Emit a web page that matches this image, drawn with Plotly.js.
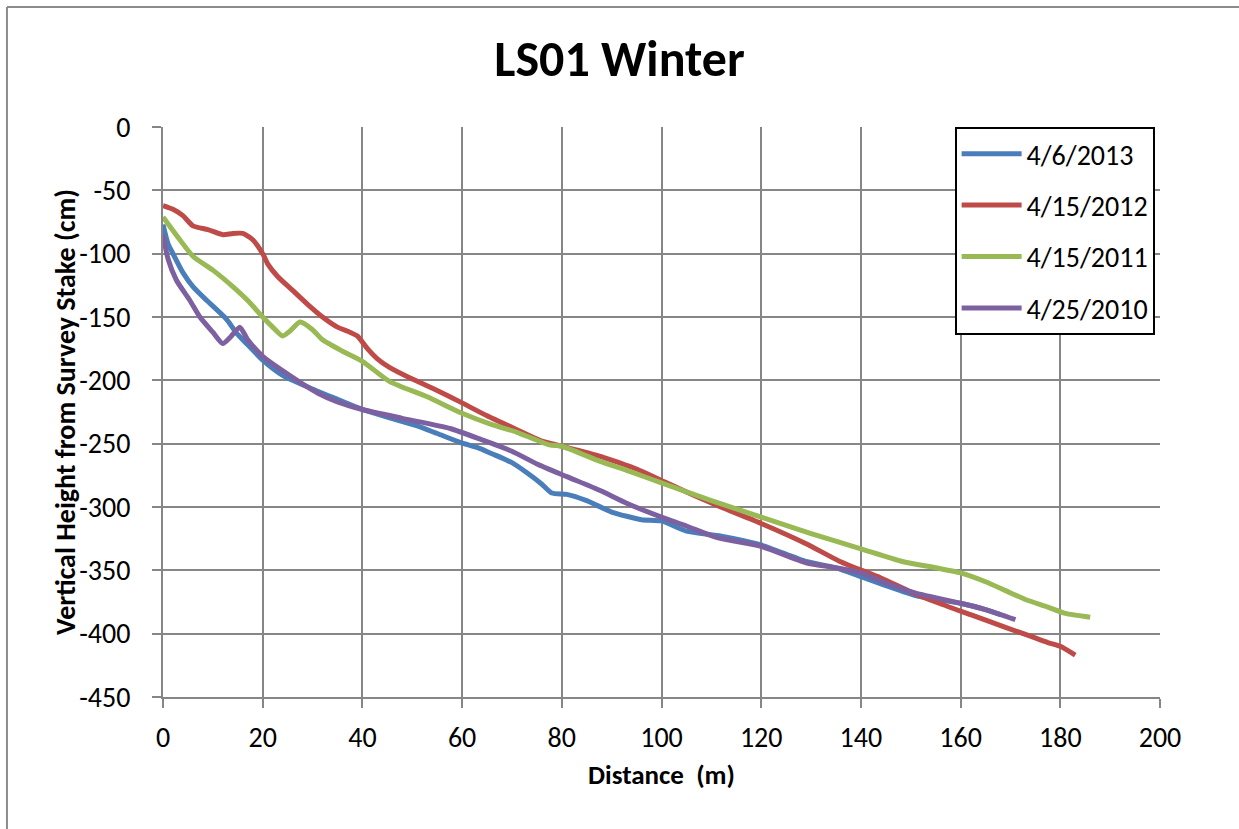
<!DOCTYPE html>
<html>
<head>
<meta charset="utf-8">
<script src="https://cdn.plot.ly/plotly-3.0.1.min.js"></script>
<style>html,body{margin:0;padding:0;background:#fff;}#chart{width:1239px;height:829px;}</style>
</head>
<body>
<div id="chart"></div>
<script>
const seriesNames = ["4/6/2013", "4/15/2012", "4/15/2011", "4/25/2010"];

const x2013 = [0, 1, 2, 4, 6, 8.8, 12.8, 14.8, 17, 20, 24, 29.5, 35, 40, 45, 51, 55, 59.6, 63, 66, 70, 73, 76, 78, 81, 85, 90, 96, 100, 105, 112, 120, 129, 135, 140, 145, 151, 155, 160, 165, 168];
const y2013 = [-77, -92, -100, -115, -126, -137, -152, -163, -172, -184, -196, -206, -215, -223, -229, -236, -242, -249, -253, -258, -265, -273, -282, -289, -290, -295, -304, -310, -311, -319, -323, -330, -343, -348, -355, -362, -370, -373, -376, -381, -385];

const x2012 = [0, 2, 4, 6, 9, 12, 14, 16, 18, 20, 21, 23, 26, 29, 32, 35, 37.5, 39, 41, 43, 45.5, 50, 55, 59.6, 65, 71, 76, 80, 87.7, 90, 95, 100, 106, 112.5, 120, 129, 135.8, 144, 150, 155, 162, 169, 174, 177.5, 180, 183];
const y2012 = [-62, -65, -70, -78, -81, -85, -84, -84, -89, -100, -108, -118, -129, -140, -150, -158, -162, -165, -175, -183, -190, -199, -208, -217, -228, -239, -248, -252, -260, -263, -270, -279, -290, -301, -313, -329, -343, -356, -367, -375, -385, -395, -402, -407, -410, -417];

const x2011 = [0, 3, 6, 10, 14, 17, 20, 22, 24, 25.5, 27.5, 30, 32, 36, 40, 45.5, 53, 60, 66, 71, 77.5, 80, 87.7, 93, 100, 110, 120, 130, 140, 148.3, 155, 160, 165, 169, 173, 177.5, 181, 186];
const y2011 = [-71, -87, -102, -113, -126, -137, -150, -158, -165, -161, -154, -160, -168, -177, -185, -201, -213, -226, -235, -241, -251, -252, -264, -271, -281, -295, -308, -321, -333, -343, -348, -352, -359, -366, -373, -379, -384, -387];

const x2010 = [0, 1, 2.7, 5.4, 7.4, 10, 12, 13.5, 15.4, 17, 20, 25, 31, 35, 40, 48, 57.6, 64, 70, 75, 81, 87.7, 93, 100, 105, 111, 120, 129, 135, 140, 145, 151, 160, 165, 171];
const y2010 = [-85, -104, -121, -137, -150, -162, -171, -166, -158, -168, -181, -195, -210, -217, -223, -230, -238, -247, -256, -266, -276, -287, -297, -308, -315, -324, -331, -344, -348, -352, -360, -368, -376, -381, -389];

const xTicks = [0, 20, 40, 60, 80, 100, 120, 140, 160, 180, 200];
const yTicks = [0, -50, -100, -150, -200, -250, -300, -350, -400, -450];

const colors = ["#4A7EBB", "#BE4B48", "#98B954", "#7D60A0"];
const xs = [x2013, x2012, x2011, x2010];
const ys = [y2013, y2012, y2011, y2010];

const FONT = "Carlito, 'Liberation Sans Narrow', 'Liberation Sans', Arial, sans-serif";

const traces = seriesNames.map((n, i) => ({
  type: "scatter", mode: "lines", name: n,
  x: xs[i], y: ys[i], legendgroup: "g" + i,
  line: {color: colors[i], width: 5, shape: "spline", smoothing: 0.6}
}));

const layout = {
  width: 1239, height: 829,
  margin: {l: 163, r: 79, t: 127, b: 132},
  paper_bgcolor: "#fff", plot_bgcolor: "#fff",
  font: {family: FONT, color: "#000"},
  title: {text: "<b>LS01 Winter</b>", font: {family: FONT, size: 50, color: "#000"}, x: 0.5, xanchor: "center", y: 0.929, yanchor: "middle"},
  xaxis: {
    range: [0, 200], tickvals: xTicks, ticktext: xTicks.map(String),
    showgrid: true, gridcolor: "#868686", gridwidth: 2,
    showline: true, linecolor: "#868686", linewidth: 2,
    ticks: "outside", ticklen: 9, tickcolor: "#868686", tickwidth: 2,
    ticklabelstandoff: 5,
    tickfont: {family: FONT, size: 28, color: "#000"},
    zeroline: false, mirror: false,
    title: {text: "<b>Distance&nbsp;&nbsp;(m)</b>", font: {family: FONT, size: 27, color: "#000"}, standoff: 12}
  },
  yaxis: {
    range: [-450, 0], tickvals: yTicks, ticktext: yTicks.map(String),
    showgrid: true, gridcolor: "#868686", gridwidth: 2,
    showline: true, linecolor: "#868686", linewidth: 2,
    ticks: "outside", ticklen: 9, tickcolor: "#868686", tickwidth: 2,
    ticklabelstandoff: 16,
    tickfont: {family: FONT, size: 28, color: "#000"},
    zeroline: false
  },
  annotations: [
    {text: "<b>Vertical Height from Survey Stake (cm)</b>", textangle: -90, xref: "paper", yref: "paper",
     x: -0.0983, y: 0.5, xanchor: "center", yanchor: "middle", showarrow: false,
     font: {family: FONT, size: 28, color: "#000"}}
  ],
  legend: {
    x: 0.794, y: 1, xanchor: "left", yanchor: "top",
    bgcolor: "#fff", bordercolor: "#000", borderwidth: 2,
    font: {family: FONT, size: 28, color: "#000"},
    tracegroupgap: 12, itemwidth: 60
  },
  shapes: [
    {type: "line", xref: "paper", yref: "paper", x0: -0.1565, x1: -0.1565, y0: 1.2105, y1: -0.3, line: {color: "#8c8c8c", width: 2}},
    {type: "line", xref: "paper", yref: "paper", x0: -0.1565, x1: 1.2, y0: 1.2105, y1: 1.2105, line: {color: "#8c8c8c", width: 2}}
  ],
  showlegend: true
};

Plotly.newPlot("chart", traces, layout, {displayModeBar: false, staticPlot: true});
</script>
</body>
</html>
